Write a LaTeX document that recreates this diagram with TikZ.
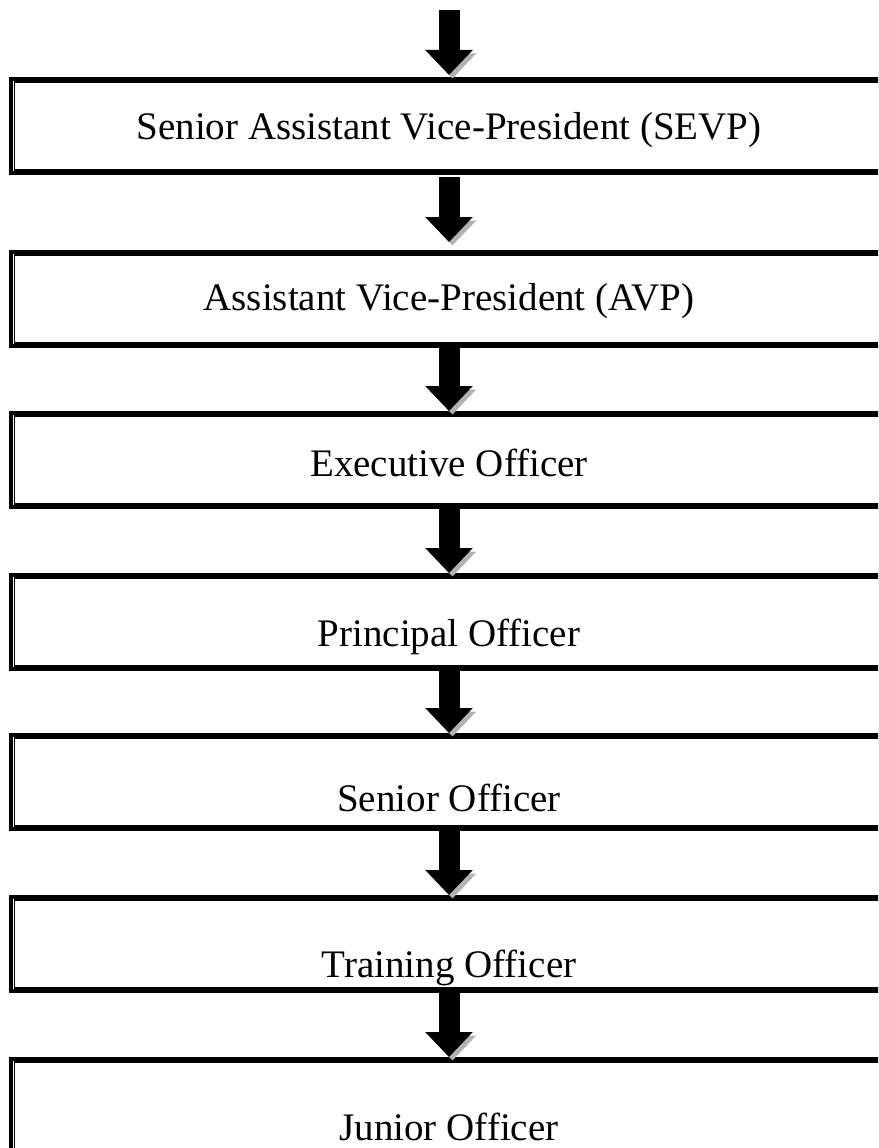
\documentclass[tikz,border=0pt]{standalone}
\usepackage{fontspec}
\setmainfont{Liberation Serif}
\usetikzlibrary{positioning}
\usetikzlibrary{arrows.meta}

\begin{document}
\begin{tikzpicture}
	[x=1pt, y=-1pt,
	rankbox/.style={draw, line width=3.6pt, minimum width=876pt, minimum height=94.4pt},
	innerline/.style={draw, line width=1.4pt},
	ranktext/.style={anchor=base, inner sep=0pt, font=\fontsize{39}{46}\selectfont},
	downarrow/.style={line width=21pt, -{Triangle[length=25pt, width=46pt]},
		preaction={draw=black!30, transform canvas={shift={(3.5pt,-3.5pt)}}}}
	]
	
	\useasboundingbox (0,0) rectangle (878,1148);
	\clip (0,0) rectangle (878,1148);
	
	%Boxes
	\node(SEVP)[rankbox] at (449,126) {};
	\node(AVP)[rankbox, below = 75pt of SEVP] {};
	\node(Exec)[rankbox, below = 63pt of AVP] {};
	\node(Principal)[rankbox, below = 64pt of Exec] {};
	\node(Senior)[rankbox, below = 62pt of Principal] {};
	\node(Training)[rankbox, below = 64pt of Senior] {};
	\node(Junior)[rankbox, below = 64pt of Training] {};
	
	%Thin inner border
	\foreach \n in {SEVP,AVP,Exec,Principal,Senior,Training,Junior}
		\draw[innerline] ([shift={(5pt,-5pt)}]\n.north west) rectangle ([shift={(-5pt,5pt)}]\n.south east);
	
	%Titles
	\node(SEVPtxt)[ranktext] at (449,139) {Senior Assistant Vice-President (SEVP)};
	\node(AVPtxt)[ranktext] at (449,310) {Assistant Vice-President (AVP)};
	\node(Exectxt)[ranktext] at (449,476) {Executive Officer};
	\node(Principaltxt)[ranktext] at (449,646) {Principal Officer};
	\node(Seniortxt)[ranktext] at (449,811) {Senior Officer};
	\node(Trainingtxt)[ranktext] at (449,977) {Training Officer};
	\node(Juniortxt)[ranktext] at (449,1140) {Junior Officer};
	
	%Arrows
	\coordinate(Top) at (449,10);
	\draw[downarrow] (Top) -- ([yshift=2pt]SEVP.north);
	\draw[downarrow] ([yshift=-2pt]SEVP.south) -- ([yshift=8pt]AVP.north);
	\draw[downarrow] (AVP.south) -- (Exec.north);
	\draw[downarrow] (Exec.south) -- (Principal.north);
	\draw[downarrow] (Principal.south) -- (Senior.north);
	\draw[downarrow] (Senior.south) -- (Training.north);
	\draw[downarrow] (Training.south) -- (Junior.north);
	
\end{tikzpicture}
\end{document}
